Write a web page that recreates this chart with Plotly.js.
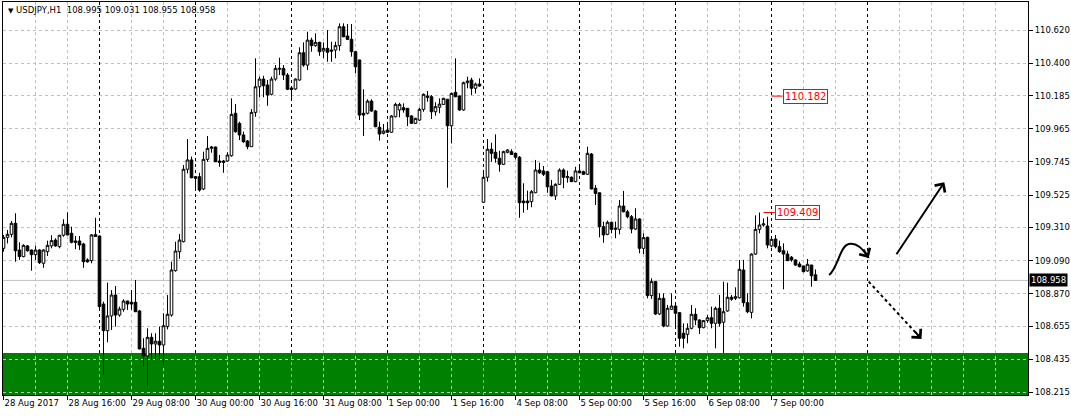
<!DOCTYPE html>
<html>
<head>
<meta charset="utf-8">
<script src="https://cdn.plot.ly/plotly-3.0.1.min.js"></script>
<style>
html,body{margin:0;padding:0;background:#fff;}
#chart{width:1071px;height:416px;}
</style>
</head>
<body>
<div id="chart"></div>
<script>
// ---------------- data ----------------
const symbol = 'USDJPY,H1';
const tickLabels = ['28 Aug 2017','28 Aug 16:00','29 Aug 08:00','30 Aug 00:00','30 Aug 16:00','31 Aug 08:00',
  '1 Sep 00:00','1 Sep 16:00','4 Sep 08:00','5 Sep 00:00','5 Sep 16:00','6 Sep 08:00','7 Sep 00:00'];
const priceTicks = [110.620,110.400,110.185,109.965,109.745,109.525,109.310,109.090,108.870,108.655,108.435,108.215];

const openP = [109.171,109.244,109.264,109.337,109.160,109.116,109.187,109.160,109.129,109.160,109.072,109.149,109.187,109.226,109.182,109.258,109.331,109.271,109.220,109.220,109.200,109.094,109.089,109.262,
109.253,108.801,108.624,108.722,108.861,108.728,108.766,108.821,108.813,108.813,108.755,108.507,108.456,108.580,108.536,108.554,108.529,108.651,108.728,109.023,109.149,109.215,109.696,109.758,
109.647,109.647,109.565,109.762,109.835,109.844,109.751,109.751,109.751,109.786,110.068,110.001,109.924,109.884,109.846,110.074,110.244,110.295,110.256,110.194,110.295,110.360,110.366,110.322,
110.236,110.229,110.289,110.470,110.388,110.554,110.517,110.539,110.481,110.499,110.488,110.488,110.517,110.643,110.581,110.559,110.477,110.422,110.068,110.068,110.149,110.083,109.975,109.935,
109.957,109.942,110.045,110.090,110.105,110.101,110.050,110.001,110.023,110.094,110.183,110.178,110.078,110.108,110.127,110.161,109.985,110.207,110.183,110.090,110.271,110.289,110.234,110.262,
109.477,109.643,109.829,109.809,109.769,109.729,109.809,109.813,109.802,109.776,109.485,109.485,109.481,109.540,109.691,109.685,109.680,109.585,109.519,109.596,109.691,109.640,109.643,109.614,
109.685,109.680,109.663,109.797,109.570,109.540,109.315,109.264,109.344,109.297,109.297,109.452,109.414,109.381,109.299,109.366,109.171,109.244,108.857,108.950,108.735,108.839,108.655,108.766,
108.788,108.744,108.607,108.600,108.640,108.733,108.695,108.644,108.691,108.710,108.673,108.773,108.680,108.755,108.846,108.839,108.843,109.027,108.810,108.746,109.133,109.297,109.326,109.319,
109.187,109.233,109.182,109.155,109.133,109.112,109.094,109.067,109.054,109.021,109.060,108.995];

const highP = [109.260,109.293,109.353,109.404,109.211,109.198,109.193,109.162,109.189,109.165,109.165,109.222,109.258,109.238,109.260,109.364,109.410,109.315,109.253,109.253,109.208,109.105,109.266,109.374,
109.255,108.817,108.943,108.894,108.921,108.784,108.833,108.823,108.894,108.961,108.762,108.574,108.640,108.607,108.607,108.651,108.740,108.861,109.082,109.215,109.266,109.724,109.897,109.780,
109.649,109.673,109.813,109.917,109.851,109.846,109.791,109.758,109.809,110.167,110.129,110.012,109.946,109.890,110.096,110.433,110.311,110.317,110.289,110.311,110.388,110.437,110.388,110.335,
110.238,110.300,110.506,110.539,110.610,110.570,110.599,110.543,110.539,110.621,110.543,110.543,110.665,110.665,110.661,110.661,110.479,110.424,110.227,110.161,110.161,110.090,110.012,109.997,
110.005,110.056,110.138,110.138,110.134,110.103,110.056,110.038,110.105,110.200,110.216,110.189,110.141,110.167,110.171,110.163,110.205,110.433,110.185,110.278,110.311,110.304,110.271,110.300,
109.691,109.897,109.872,109.928,109.819,109.819,109.829,109.829,109.806,109.784,109.603,109.554,109.558,109.758,109.740,109.718,109.682,109.625,109.603,109.702,109.702,109.687,109.649,109.713,
109.713,109.687,109.846,109.804,109.592,109.542,109.348,109.355,109.348,109.348,109.492,109.552,109.426,109.392,109.437,109.370,109.271,109.248,108.972,108.952,108.872,108.872,108.795,108.872,
108.801,108.746,108.673,108.673,108.795,108.773,108.700,108.695,108.728,108.784,108.784,108.861,108.950,108.943,108.861,108.912,109.094,109.094,108.872,109.138,109.390,109.409,109.370,109.381,
109.244,109.260,109.222,109.204,109.155,109.120,109.098,109.082,109.056,109.100,109.062,109.031];

const lowP = [109.149,109.204,109.244,109.082,109.094,109.112,109.149,109.023,109.094,109.067,109.042,109.120,109.171,109.182,109.171,109.248,109.258,109.204,109.165,109.160,109.042,109.076,109.072,109.246,
108.762,108.330,108.547,108.629,108.651,108.717,108.750,108.762,108.762,108.748,108.500,108.385,108.259,108.430,108.430,108.430,108.396,108.633,108.717,109.016,109.102,109.211,109.669,109.636,
109.554,109.547,109.558,109.746,109.806,109.744,109.713,109.673,109.746,109.780,109.939,109.890,109.872,109.829,109.844,110.045,110.174,110.174,110.118,110.187,110.284,110.322,110.289,110.222,
110.156,110.222,110.284,110.377,110.355,110.477,110.510,110.450,110.433,110.410,110.410,110.433,110.483,110.574,110.554,110.444,110.333,110.023,109.917,110.061,110.078,109.975,109.886,109.928,
109.939,109.939,110.041,110.041,110.072,109.983,109.997,109.997,110.017,110.078,110.145,110.030,110.052,110.068,110.123,109.574,109.868,110.174,110.085,110.085,110.234,110.189,110.200,110.244,
109.475,109.614,109.746,109.740,109.680,109.724,109.802,109.791,109.762,109.374,109.408,109.426,109.444,109.538,109.665,109.651,109.540,109.517,109.492,109.592,109.570,109.607,109.612,109.610,
109.669,109.658,109.658,109.563,109.459,109.244,109.208,109.258,109.271,109.238,109.264,109.410,109.370,109.271,109.293,109.138,109.133,108.839,108.835,108.728,108.728,108.647,108.651,108.762,
108.640,108.518,108.507,108.540,108.633,108.662,108.602,108.640,108.677,108.640,108.507,108.651,108.475,108.750,108.823,108.828,108.839,108.784,108.740,108.706,109.127,109.271,109.315,109.171,
109.178,109.171,109.142,108.899,109.087,109.082,109.054,109.045,109.012,109.016,108.916,108.955];

const closeP = [109.244,109.264,109.337,109.155,109.116,109.191,109.155,109.129,109.160,109.076,109.160,109.191,109.222,109.187,109.258,109.331,109.260,109.211,109.211,109.193,109.082,109.082,109.260,109.250,
108.784,108.624,108.722,108.861,108.728,108.768,108.821,108.801,108.801,108.750,108.503,108.456,108.580,108.536,108.554,108.529,108.657,108.733,109.027,109.153,109.226,109.696,109.758,109.640,
109.636,109.558,109.762,109.835,109.844,109.746,109.742,109.742,109.791,110.061,109.946,109.924,109.879,109.846,110.074,110.244,110.295,110.251,110.189,110.295,110.366,110.366,110.322,110.227,
110.226,110.295,110.470,110.388,110.554,110.517,110.539,110.477,110.499,110.473,110.481,110.517,110.643,110.576,110.559,110.477,110.377,110.056,110.056,110.149,110.083,109.979,109.930,109.950,
109.942,110.050,110.127,110.127,110.090,110.045,110.001,110.034,110.094,110.194,110.174,110.078,110.112,110.129,110.167,109.985,110.200,110.178,110.090,110.271,110.282,110.234,110.262,110.249,
109.643,109.829,109.802,109.769,109.729,109.813,109.824,109.795,109.776,109.474,109.474,109.474,109.547,109.691,109.673,109.663,109.580,109.519,109.596,109.691,109.643,109.647,109.614,109.685,
109.673,109.663,109.802,109.565,109.536,109.315,109.260,109.344,109.297,109.304,109.452,109.414,109.381,109.299,109.366,109.171,109.242,108.857,108.950,108.735,108.839,108.655,108.773,108.788,
108.740,108.574,108.574,108.640,108.733,108.695,108.644,108.691,108.710,108.673,108.773,108.673,108.750,108.846,108.833,108.850,109.032,108.810,108.750,109.133,109.297,109.326,109.333,109.193,
109.231,109.182,109.149,109.133,109.089,109.094,109.060,109.049,109.016,109.065,108.989,108.958];

// drawn objects (bar index / price)
const supportZoneTop = 108.476;
const levelLabelPrices = [110.182, 109.409];
const levelLabelBars = [192, 190];
const curveX = [206.4,208.6,209.1,211.3,213.3,215.1,216.3];
const curveY = [108.994,109.040,109.187,109.200,109.213,109.160,109.107];
const upArrowX = [223.0, 235.2];
const upArrowY = [109.122, 109.610];
const downArrowX = [216.3, 229.5];
const downArrowY = [108.950, 108.569];

// ---------------- chart ----------------
const N = openP.length;
const last = N - 1;
const xIdx = openP.map((_, i) => i);
const xMin = -0.125, xMax = 256.125;
const yMin = 108.197, yMax = 110.807;
const FONT = 'DejaVu Sans';
const barsPerDay = 24;

const tickVals = tickLabels.map((_, k) => k * 16);
const separators = [];
for (let k = barsPerDay; k <= Math.ceil(N / barsPerDay) * barsPerDay; k += barsPerDay) separators.push(k);
const gridVals = [];
for (let v = 0; v <= xMax; v += 8) if (!separators.includes(v)) gridVals.push(v);

const candle = {
  type: 'candlestick',
  x: xIdx, open: openP, high: highP, low: lowP, close: closeP,
  increasing: {line: {color: '#000', width: 1}, fillcolor: '#fff'},
  decreasing: {line: {color: '#000', width: 1}, fillcolor: '#000'},
  whiskerwidth: 0,
  hoverinfo: 'skip',
  showlegend: false
};

const shapes = [];
shapes.push({type: 'rect', xref: 'paper', x0: 0, x1: 1, yref: 'y', y0: yMin, y1: supportZoneTop,
  fillcolor: '#008000', line: {width: 0}, layer: 'below'});
shapes.push({type: 'line', xref: 'paper', x0: 0, x1: 1, yref: 'y', y0: closeP[last], y1: closeP[last],
  line: {color: '#c0c0c0', width: 1}, layer: 'below'});
separators.forEach(s => {
  shapes.push({type: 'line', xref: 'x', x0: s, x1: s, yref: 'y', y0: supportZoneTop, y1: yMax,
    line: {color: '#000', width: 1, dash: '3px,3px'}, layer: 'between'});
  shapes.push({type: 'line', xref: 'x', x0: s, x1: s, yref: 'y', y0: yMin, y1: supportZoneTop,
    line: {color: '#ff66ff', width: 1, dash: '3px,3px'}, layer: 'between'});
});
levelLabelPrices.forEach((p, k) => {
  shapes.push({type: 'line', xref: 'x', x0: levelLabelBars[k], x1: levelLabelBars[k] + 2.8, yref: 'y', y0: p, y1: p,
    line: {color: '#ff0000', width: 1}});
});
const cp = curveX.map((x, i) => x + ',' + curveY[i]);
shapes.push({type: 'path', xref: 'x', yref: 'y',
  path: 'M' + cp[0] + ' C' + cp[1] + ' ' + cp[2] + ' ' + cp[3] + ' C' + cp[4] + ' ' + cp[5] + ' ' + cp[6],
  line: {color: '#000', width: 2}});
shapes.push({type: 'line', xref: 'x', yref: 'y', x0: downArrowX[0], y0: downArrowY[0], x1: downArrowX[1], y1: downArrowY[1],
  line: {color: '#000', width: 2, dash: 'dot'}});

const annotations = [];
annotations.push({xref: 'paper', yref: 'paper', x: 0, y: 1, xanchor: 'left', yanchor: 'top', xshift: 3, yshift: -1,
  showarrow: false, align: 'left',
  text: '<span style="font-size:7px">\u25BC</span>\u00a0' + symbol + '\u00a0\u00a0' +
        [openP[last], highP[last], lowP[last], closeP[last]].map(v => v.toFixed(3)).join('\u00a0'),
  font: {family: FONT, size: 8.5, color: '#000'}});
annotations.push({xref: 'paper', yref: 'y', x: 1, y: closeP[last], xanchor: 'left', yanchor: 'middle', xshift: 1,
  showarrow: false, text: closeP[last].toFixed(3), bgcolor: '#000', borderpad: 1,
  font: {family: FONT, size: 8.5, color: '#fff'}});
levelLabelPrices.forEach((p, k) => {
  annotations.push({xref: 'x', yref: 'y', x: levelLabelBars[k] + 2.8, y: p, xanchor: 'left', yanchor: 'middle',
    showarrow: false, text: p.toFixed(3), bgcolor: '#fff', bordercolor: '#ff0000', borderwidth: 1, borderpad: 1,
    font: {family: FONT, size: 10, color: '#ff0000'}});
});
annotations.push({xref: 'x', yref: 'y', axref: 'x', ayref: 'y', x: upArrowX[1], y: upArrowY[1], ax: upArrowX[0], ay: upArrowY[0],
  text: '', showarrow: true, arrowhead: 4, arrowsize: 1.2, arrowwidth: 2, arrowcolor: '#000'});
annotations.push({xref: 'x', yref: 'y', x: curveX[6], y: curveY[6], ax: -6, ay: -10,
  text: '', showarrow: true, arrowhead: 4, arrowsize: 1.2, arrowwidth: 2, arrowcolor: '#000'});
annotations.push({xref: 'x', yref: 'y', x: downArrowX[1], y: downArrowY[1], ax: -8, ay: -9,
  text: '', showarrow: true, arrowhead: 4, arrowsize: 1.2, arrowwidth: 2, arrowcolor: '#000'});

const layout = {
  width: 1071, height: 416,
  margin: {l: 3, r: 43, t: 2, b: 21, pad: 0},
  paper_bgcolor: '#fff', plot_bgcolor: '#fff',
  showlegend: false,
  hovermode: false,
  dragmode: false,
  boxgap: 0.35, boxgroupgap: 0,
  font: {family: FONT, size: 8.5, color: '#000'},
  xaxis: {
    type: 'linear', range: [xMin, xMax], fixedrange: true,
    rangeslider: {visible: false},
    tickmode: 'array', tickvals: tickVals, ticktext: tickLabels,
    tickangle: 0, autotickangles: [0],
    ticks: 'outside', ticklen: 4, tickcolor: '#000', tickwidth: 1,
    ticklabelposition: 'outside right',
    tickfont: {family: FONT, size: 8.5, color: '#000'},
    showgrid: false, zeroline: false,
    minor: {tickmode: 'array', tickvals: gridVals, ticks: '', showgrid: true,
      gridcolor: '#c0c0c0', gridwidth: 1, griddash: '3px,3px'},
    showline: true, linecolor: '#000', linewidth: 1, mirror: true
  },
  yaxis: {
    type: 'linear', range: [yMin, yMax], fixedrange: true, side: 'right',
    tickmode: 'array', tickvals: priceTicks, ticktext: priceTicks.map(v => v.toFixed(3)),
    ticks: 'outside', ticklen: 4, tickcolor: '#000', tickwidth: 1,
    tickfont: {family: FONT, size: 8.5, color: '#000'},
    showgrid: true, gridcolor: '#c0c0c0', gridwidth: 1, griddash: '3px,3px',
    zeroline: false,
    showline: true, linecolor: '#000', linewidth: 1, mirror: true
  },
  shapes: shapes,
  annotations: annotations
};

Plotly.newPlot('chart', [candle], layout, {displayModeBar: false, staticPlot: true});
</script>
</body>
</html>
